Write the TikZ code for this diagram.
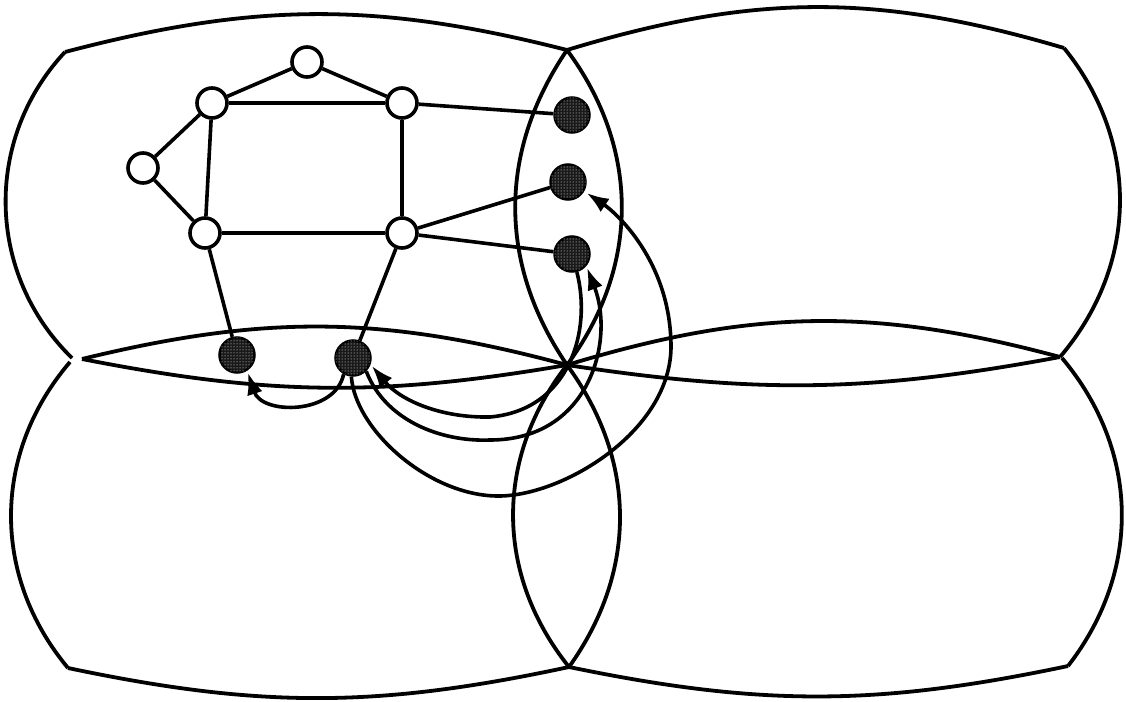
\documentclass[tikz,border=0pt]{standalone}
\usetikzlibrary{arrows.meta,patterns}
\begin{document}
\begin{tikzpicture}[x=1pt,y=1pt,
  edge/.style={line width=3.6pt},
  border/.style={line width=3.8pt},
  wnode/.style={circle,draw,line width=3.6pt,fill=white,minimum size=30pt,inner sep=0pt},
  dnode/.style={circle,draw,line width=2.5pt,fill=black!90,minimum size=35pt,inner sep=0pt,
    postaction={pattern=dots,pattern color=white}},
  arr/.style={line width=3.6pt,-{Latex[length=22pt,width=16pt]}}]
\useasboundingbox (0,0) rectangle (1126,-701);
% corners
\coordinate (TL) at (65,-52);
\coordinate (TM) at (567,-50);
\coordinate (TR) at (1064,-48);
\coordinate (MLa) at (72,-358);
\coordinate (MLb) at (70,-362);
\coordinate (MLc) at (82,-359);
\coordinate (MC) at (567,-365);
\coordinate (MRa) at (1060,-357);
\coordinate (MRb) at (1062,-358);
\coordinate (BL) at (68,-668);
\coordinate (BM) at (569,-667);
\coordinate (BR) at (1068,-666);
% outer edges
\draw[border] (TL) to[bend left=14.5] (TM);
\draw[border] (TM) to[bend left=16.7] (TR);
\draw[border] (TL) to[bend right=44.4] (MLa);
\draw[border] (MLb) to[bend right=40.2] (BL);
\draw[border] (TR) to[bend left=39.7] (MRa);
\draw[border] (MRb) to[bend left=38.9] (BR);
\draw[border] (BL) to[bend right=12] (BM);
\draw[border] (BM) to[bend right=11.8] (BR);
% horizontal lenses
\draw[border] (MLc) to[bend left=14.4] (MC);
\draw[border] (MLc) to[bend right=10.4] (MC);
\draw[border] (MC) to[bend left=16] (MRa);
\draw[border] (MC) to[bend right=9.6] (MRa);
% vertical lenses
\draw[border] (TM) to[bend right=34.2] (MC);
\draw[border] (TM) to[bend left=36.5] (MC);
\draw[border] (MC) to[bend right=38.3] (BM);
\draw[border] (MC) to[bend left=35.9] (BM);
% graph nodes
\node[wnode] (n1) at (307,-62) {};
\node[wnode] (n2) at (212,-103) {};
\node[wnode] (n3) at (402,-103) {};
\node[wnode] (n4) at (143,-168) {};
\node[wnode] (n5) at (205,-233) {};
\node[wnode] (n6) at (402,-233) {};
\node[dnode] (d1) at (237,-355) {};
\node[dnode] (d2) at (353,-358) {};
\node[dnode] (d3) at (572,-115) {};
\node[dnode] (d4) at (568,-182) {};
\node[dnode] (d5) at (572,-254) {};
% graph edges
\draw[edge] (n1) -- (n2);
\draw[edge] (n1) -- (n3);
\draw[edge] (n2) -- (n3);
\draw[edge] (n2) -- (n4);
\draw[edge] (n4) -- (n5);
\draw[edge] (n2) -- (n5);
\draw[edge] (n3) -- (n6);
\draw[edge] (n5) -- (n6);
\draw[edge] (n5) -- (d1);
\draw[edge] (n6) -- (d2);
\draw[edge] (n3) -- (d3);
\draw[edge] (n6) -- (d4);
\draw[edge] (n6) -- (d5);
% curved arrows
\draw[arr,shorten >=2pt] (d2.-120) .. controls (335,-415) and (262,-415) .. (d1.-57);
\draw[arr,shorten >=3pt] (d2.-95) .. controls (355,-430) and (430,-497) .. (500,-496)
   .. controls (565,-495) and (672,-430) .. (671,-345)
   .. controls (670,-260) and (615,-212) .. (d4.-30);
\draw[arr,shorten >=2pt] (d5.-75) .. controls (592,-330) and (570,-410) .. (490,-417)
   .. controls (440,-418) and (400,-400) .. (d2.-20);
\draw[arr,shorten >=2pt] (d2.-45) .. controls (385,-420) and (440,-442) .. (490,-440)
   .. controls (590,-440) and (615,-340) .. (d5.-40);
\end{tikzpicture}
\end{document}
